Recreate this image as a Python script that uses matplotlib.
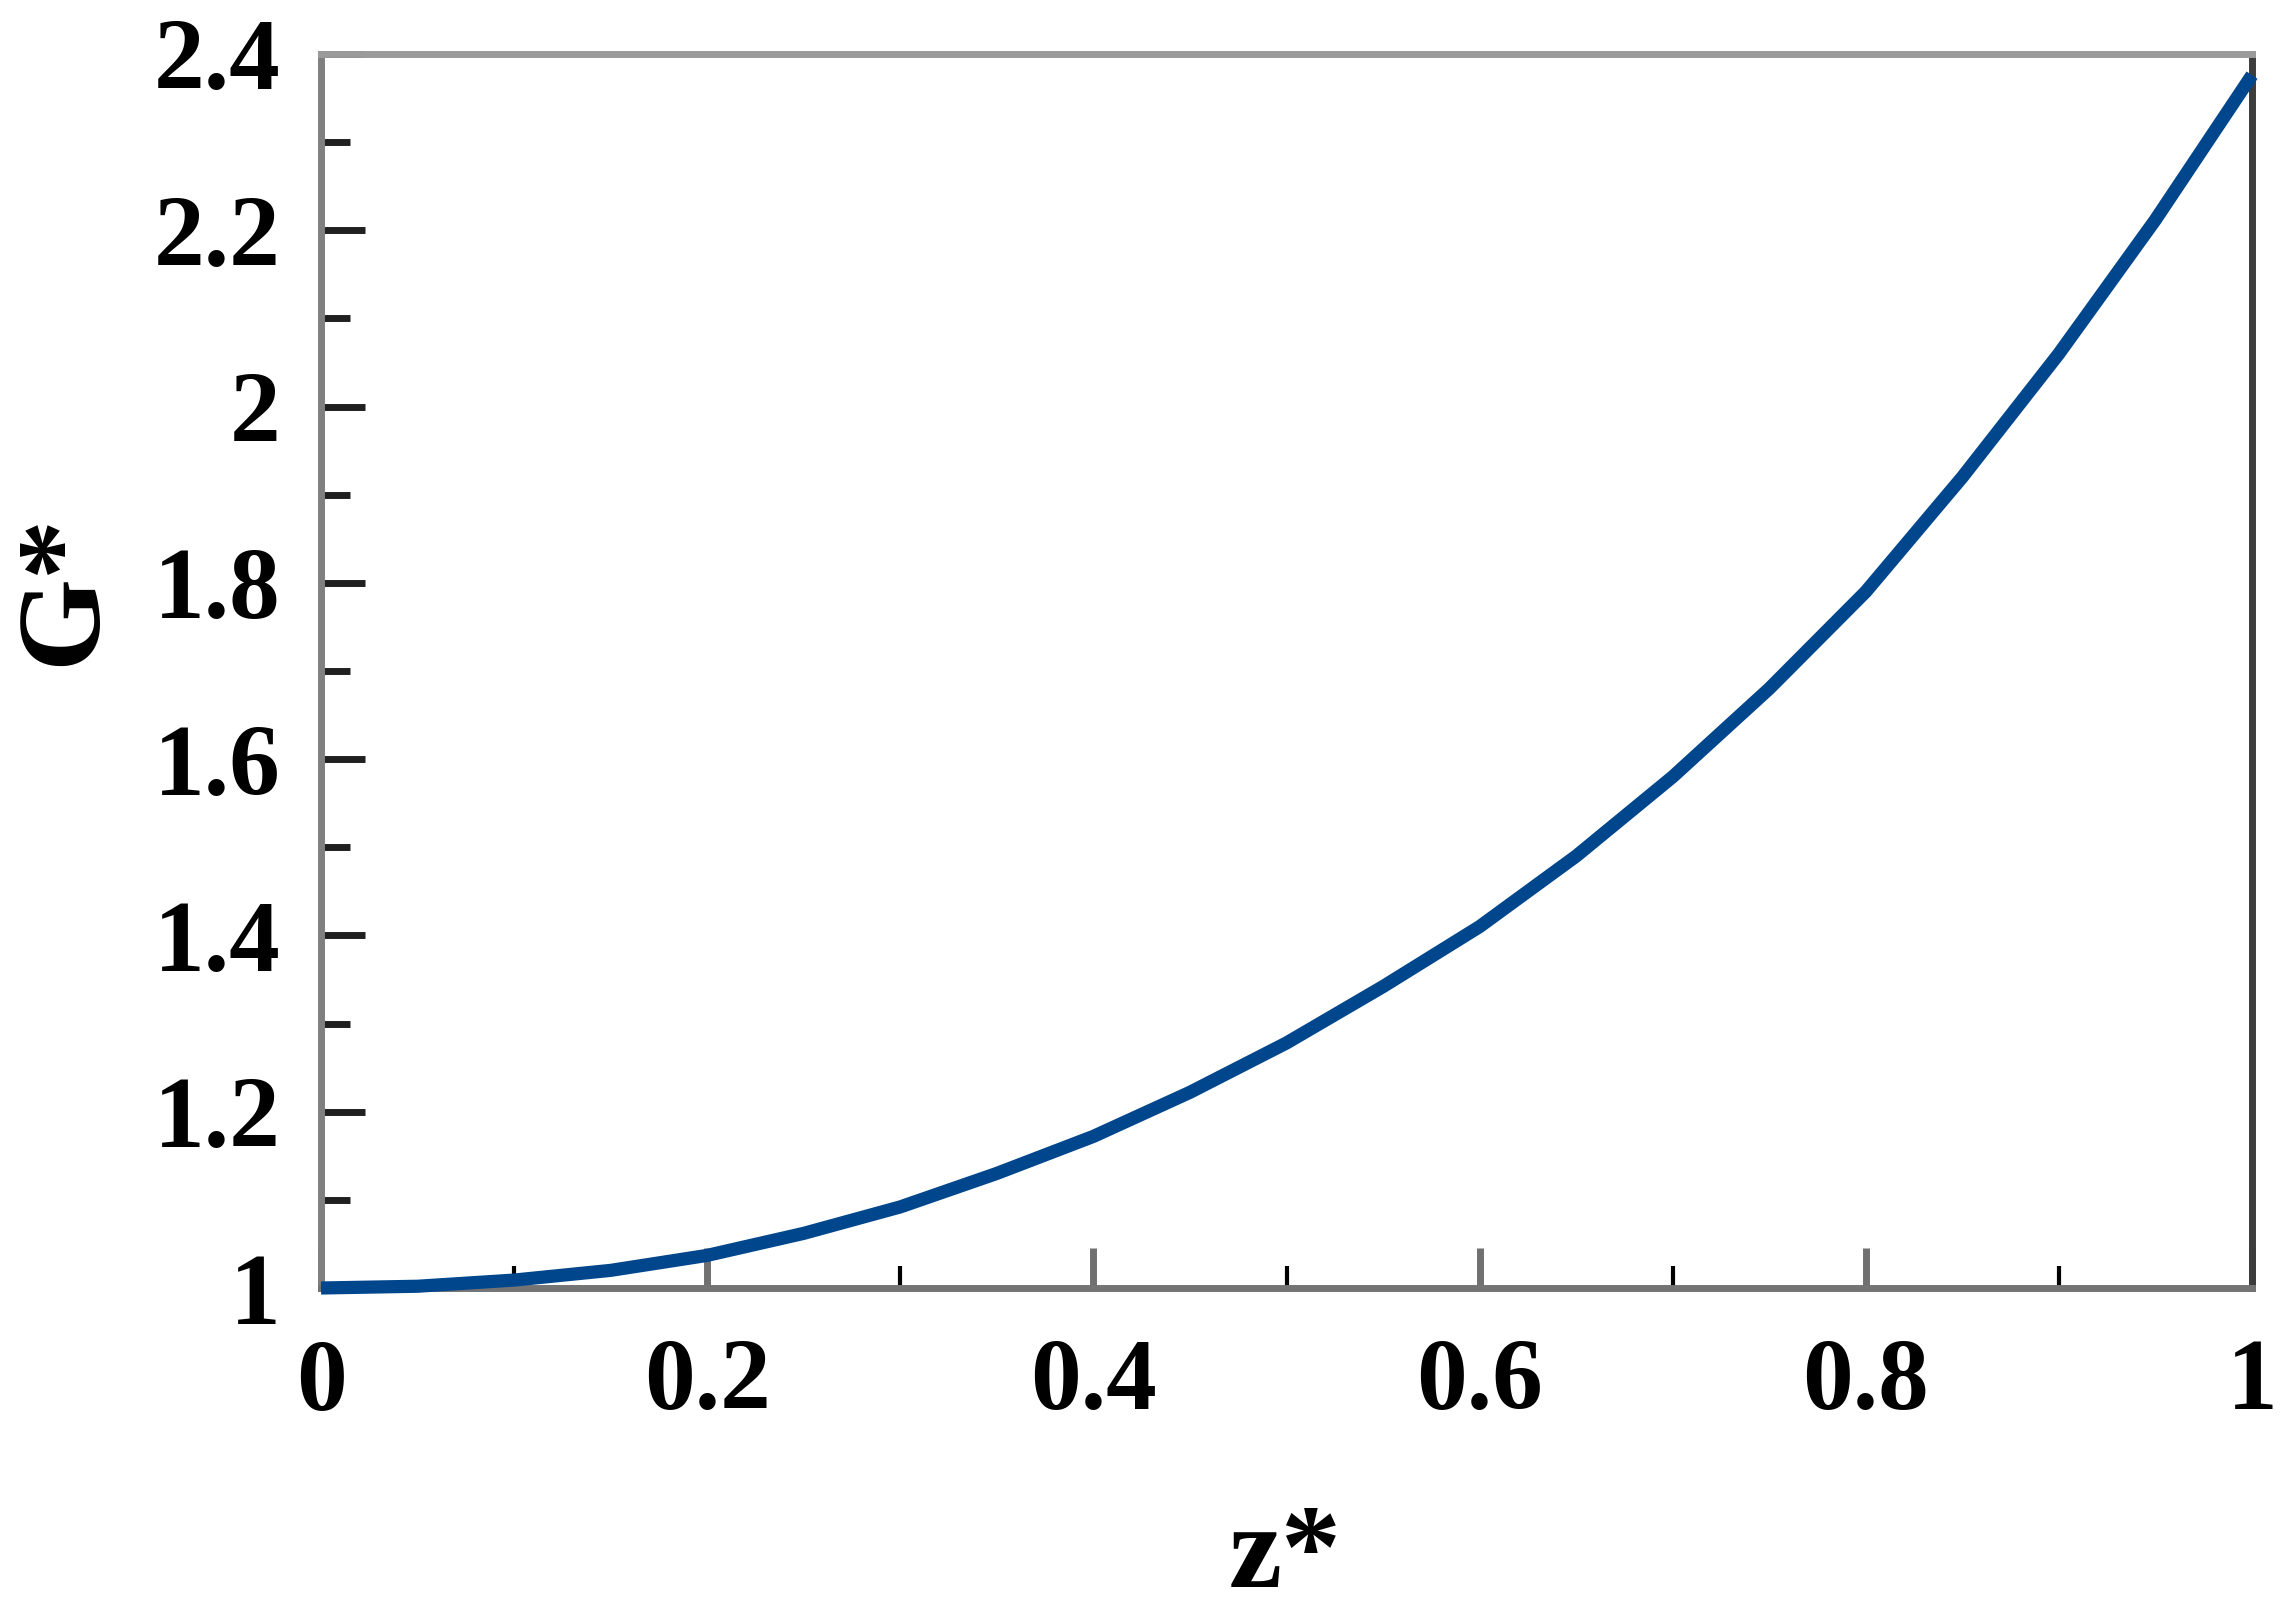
import matplotlib
matplotlib.use("Agg")
import matplotlib.pyplot as plt
from matplotlib.ticker import FixedLocator

# ---- data ----
z_star = [0.00, 0.05, 0.10, 0.15, 0.20, 0.25, 0.30, 0.35, 0.40, 0.45, 0.50,
          0.55, 0.60, 0.65, 0.70, 0.75, 0.80, 0.85, 0.90, 0.95, 1.00]
g_star = [1.000, 1.002, 1.009, 1.020, 1.037, 1.062, 1.092, 1.130, 1.172, 1.222, 1.278,
          1.342, 1.410, 1.490, 1.580, 1.680, 1.790, 1.920, 2.060, 2.212, 2.376]

x_ticks = [0, 0.2, 0.4, 0.6, 0.8, 1.0]
x_tick_labels = ["0", "0.2", "0.4", "0.6", "0.8", "1"]
x_minor = [0.1, 0.3, 0.5, 0.7, 0.9]
y_ticks = [1.0, 1.2, 1.4, 1.6, 1.8, 2.0, 2.2, 2.4]
y_tick_labels = ["1", "1.2", "1.4", "1.6", "1.8", "2", "2.2", "2.4"]
y_minor = [1.1, 1.3, 1.5, 1.7, 1.9, 2.1, 2.3]
x_label = "z*"
y_label = "G*"

FONT = "Liberation Serif"
W, H = 2286, 1614
DPI = 100

fig = plt.figure(figsize=(W / DPI, H / DPI), dpi=DPI)
ax = fig.add_axes([321 / W, 1 - 1288 / H, (2252 - 321) / W, (1288 - 54) / H])

ax.plot(z_star, g_star, color="#00468c", linewidth=9.5, solid_capstyle="butt",
        solid_joinstyle="round", clip_on=False, zorder=5)

ax.set_xlim(0, 1)
ax.set_ylim(1, 2.4)

ax.xaxis.set_major_locator(FixedLocator(x_ticks))
ax.xaxis.set_minor_locator(FixedLocator(x_minor))
ax.yaxis.set_major_locator(FixedLocator(y_ticks))
ax.yaxis.set_minor_locator(FixedLocator(y_minor))
ax.set_xticklabels(x_tick_labels)
ax.set_yticklabels(y_tick_labels)

for lab in ax.get_xticklabels() + ax.get_yticklabels():
    lab.set_fontfamily(FONT)
    lab.set_fontweight("bold")
    lab.set_fontsize(73)
    lab.set_color("black")

ax.tick_params(axis="x", which="major", direction="in", length=29, width=5,
               color="#707070", pad=36, top=False)
ax.tick_params(axis="x", which="minor", direction="in", length=16, width=3,
               color="black", top=False)
ax.tick_params(axis="y", which="major", direction="in", length=32, width=5,
               color="#202020", pad=29, right=False)
ax.tick_params(axis="y", which="minor", direction="in", length=21, width=5,
               color="#202020", right=False)

for side, col in [("left", "#808080"), ("bottom", "#747474"),
                  ("top", "#9a9a9a"), ("right", "#3c3c3c")]:
    ax.spines[side].set_color(col)
    ax.spines[side].set_linewidth(5)

fig.text(66 / W, 1 - 590 / H, y_label, rotation=90, ha="center", va="center",
         fontfamily=FONT, fontweight="bold", fontsize=86)
fig.text(1285 / W, 1 - 1587 / H, x_label, ha="center", va="baseline",
         fontfamily=FONT, fontweight="bold", fontsize=86)

fig.savefig("out.png", dpi=DPI, facecolor="white")
